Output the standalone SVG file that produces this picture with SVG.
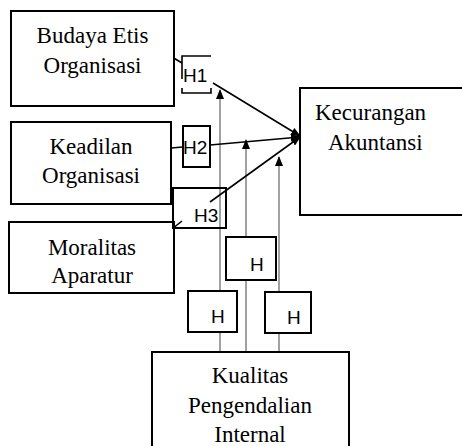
<svg xmlns="http://www.w3.org/2000/svg" width="462" height="446" viewBox="0 0 462 446">
<style>
.box{fill:#fff;stroke:#000;stroke-width:2}
.hbox{fill:#fff;stroke:#000;stroke-width:2}
.t{font-family:"Liberation Serif","Times New Roman",serif;font-size:23px;fill:#000}
.h{font-family:"Liberation Sans",Arial,sans-serif;font-size:19px;fill:#000}
.blk{stroke:#000;stroke-width:1.6;fill:none}
.gry{stroke:#8a8a8a;stroke-width:1.6;fill:none}
</style>
<defs>
<marker id="ah" markerWidth="10" markerHeight="8" refX="9" refY="4" orient="auto" markerUnits="userSpaceOnUse">
<path d="M0,0 L10,4 L0,8 Z" fill="#000"/>
</marker>
</defs>
<rect width="462" height="446" fill="#fff"/>
<g id="connectors">
<line class="gry" x1="220" y1="351" x2="220" y2="90" marker-end="url(#ah)"/>
<line class="gry" x1="246" y1="351" x2="246" y2="140" marker-end="url(#ah)"/>
<line class="gry" x1="279" y1="351" x2="279" y2="157" marker-end="url(#ah)"/>
<line class="blk" x1="172" y1="57" x2="182" y2="63"/>
<line class="blk" x1="213" y1="83" x2="300" y2="136" marker-end="url(#ah)"/>
<line class="blk" x1="171" y1="148" x2="183" y2="147"/>
<line class="blk" x1="210" y1="145" x2="300" y2="137" marker-end="url(#ah)"/>
<line class="blk" x1="172" y1="229" x2="182" y2="221"/>
<line class="blk" x1="210" y1="202" x2="300" y2="137" marker-end="url(#ah)"/>
<circle cx="300" cy="137" r="2.5" fill="#000"/>
</g>
<g id="budaya">
<rect class="box" x="11" y="11" width="163" height="95"/>
<text class="t" x="92.5" y="43" text-anchor="middle">Budaya Etis</text>
<text class="t" x="92.5" y="73" text-anchor="middle">Organisasi</text>
</g>
<g id="keadilan">
<rect class="box" x="11" y="122" width="160" height="82"/>
<text class="t" x="91" y="154" text-anchor="middle">Keadilan</text>
<text class="t" x="91" y="183" text-anchor="middle">Organisasi</text>
</g>
<g id="moralitas">
<rect class="box" x="9" y="222" width="165" height="71"/>
<text class="t" x="92" y="255" text-anchor="middle">Moralitas</text>
<text class="t" x="92" y="283" text-anchor="middle">Aparatur</text>
</g>
<g id="kecurangan">
<rect class="box" x="300" y="88" width="170" height="127"/>
<text class="t" x="315" y="120">Kecurangan</text>
<text class="t" x="328" y="150">Akuntansi</text>
</g>
<g id="kualitas">
<rect class="box" x="152" y="352" width="197" height="100"/>
<text class="t" x="250" y="383" text-anchor="middle">Kualitas</text>
<text class="t" x="250" y="413" text-anchor="middle">Pengendalian</text>
<text class="t" x="250" y="442" text-anchor="middle">Internal</text>
</g>
<g id="h1">
<path class="blk" stroke-width="2" d="M211,56 H182 V79 M182,88 V93 H211 V88"/>
<text class="h" x="183" y="82">H1</text>
</g>
<g id="h2">
<rect class="hbox" x="183" y="126" width="27" height="41" fill="none" style="fill:none"/>
<text class="h" x="183" y="154">H2</text>
</g>
<g id="h3">
<rect class="hbox" x="173" y="188" width="53" height="40" style="fill:none"/>
<text class="h" x="194" y="222">H3</text>
</g>
<g id="ha">
<rect class="hbox" x="226" y="237" width="50" height="43"/>
<text class="h" x="250" y="271">H</text>
</g>
<g id="hb">
<rect class="hbox" x="188" y="291" width="49" height="41"/>
<text class="h" x="211" y="323">H</text>
</g>
<g id="hc">
<rect class="hbox" x="265" y="292" width="46" height="41"/>
<text class="h" x="287" y="324">H</text>
</g>
</svg>
